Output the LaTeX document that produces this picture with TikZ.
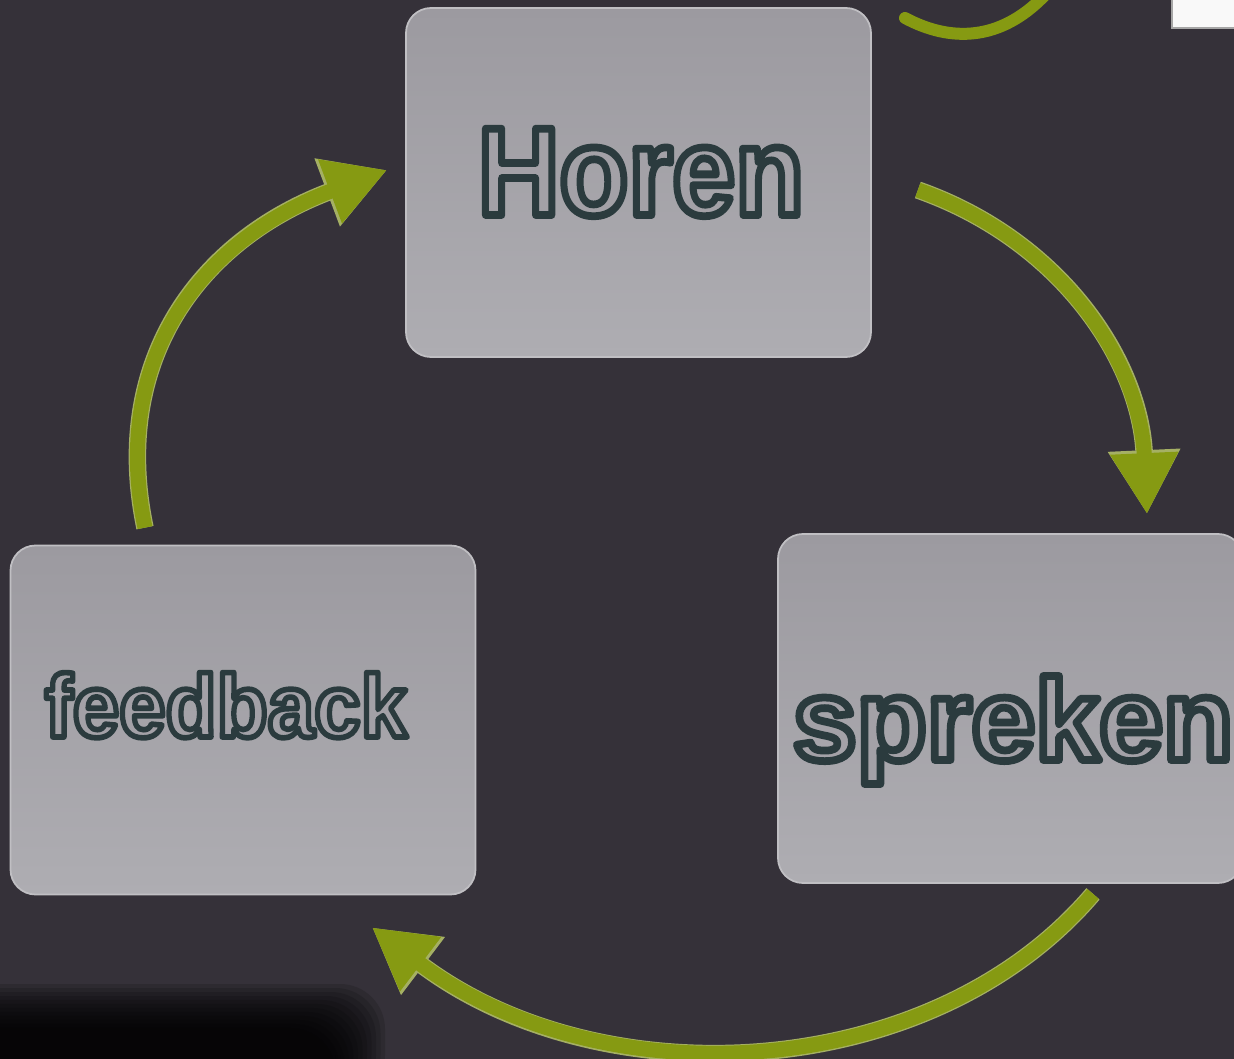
\documentclass[tikz,border=0pt]{standalone}
\usepackage{fontspec}
\setmainfont{Liberation Sans}
\usetikzlibrary{arrows.meta}

\definecolor{slate}{RGB}{53,49,57}
\definecolor{boxtop}{RGB}{156,154,160}
\definecolor{boxbottom}{RGB}{174,173,178}
\definecolor{boxrim}{RGB}{192,191,195}
\definecolor{olive}{RGB}{134,154,18}
\definecolor{oliverim}{RGB}{165,176,100}
\definecolor{ink}{RGB}{43,59,62}
\definecolor{labelfill}{RGB}{163,161,167}

\tikzset{
  stagebox/.style={draw=boxrim, line width=0.5pt, rounded corners=0.25cm,
    top color=boxtop, bottom color=boxbottom,
    minimum width=4.65cm, minimum height=3.49cm, inner sep=0pt},
  lettering/.style={anchor=base, inner sep=0pt, font=\bfseries, text=labelfill},
  cyclerim/.style={draw=oliverim, line width=0.175cm,
    -{Triangle[length=0.64cm,width=0.68cm]}},
  cyclearrow/.style={draw=olive, line width=0.15cm,
    -{Triangle[length=0.61cm,width=0.64cm]}}
}

% hollow cartoon letters: grey face with a dark stroked outline
\newcommand\hollow[2][2.2]{%
  \special{pdf:literal direct 2 Tr 1 j #1 w 0.169 0.231 0.243 RG}#2%
  \special{pdf:literal direct 0 Tr}}

\begin{document}
\begin{tikzpicture}
        % Draw dark background
        \useasboundingbox (0,0) rectangle (12.34,-10.59);
        \fill[slate] (0,0) rectangle (12.34,-10.59);
        % Draw smudge in lower left corner
        \foreach \k in {0,...,11}
            \fill[black, opacity=0.14, rounded corners=0.45cm]
                (-0.6,-11) rectangle (3.85-0.045*\k,-9.84-0.04*\k);
        % Draw green stroke and white box cut by the top edge
        \draw[olive, line width=0.12cm, line cap=round]
            (9.05,-0.18) .. controls (9.5,-0.42) and (10.0,-0.42) .. (10.45,0.05);
        \draw[draw=gray!70, fill=white!95!gray] (11.72,-0.28) rectangle (12.6,0.1);
        % Draw the three stages
        \node[stagebox] (horen) at (6.385,-1.825) {};
        \node[stagebox] (spreken) at (10.105,-7.085) {};
        \node[stagebox] (feedback) at (2.43,-7.20) {};
        % Draw stage labels
        \node[lettering] (horentext) at ([xshift=0.025cm,yshift=-0.325cm]horen.center)
            {\fontsize{35.7}{40}\selectfont\hollow{\scalebox{0.9}[1]{Horen}}};
        \node[lettering] (sprekentext) at ([xshift=0.025cm,yshift=-0.515cm]spreken.center)
            {\fontsize{33}{38}\selectfont\hollow{\scalebox{0.99}[1]{spreken}}};
        \node[lettering] (feedbacktext) at ([xshift=-0.17cm,yshift=-0.17cm]feedback.center)
            {\fontsize{25.3}{30}\selectfont\hollow[1.6]{\scalebox{0.94}[1]{feedback}}};
        % Draw arrow from Horen to spreken
        \draw[cyclerim] ([xshift=0.46cm,yshift=-0.075cm]horen.east)
            .. controls (10.6,-2.4) and (11.4,-3.6) .. ([xshift=1.365cm,yshift=0.19cm]spreken.north);
        \draw[cyclearrow] ([xshift=0.46cm,yshift=-0.075cm]horen.east)
            .. controls (10.6,-2.4) and (11.4,-3.6) .. ([xshift=1.365cm,yshift=0.19cm]spreken.north);
        % Draw arrow from spreken to feedback
        \draw[cyclerim] ([xshift=0.825cm,yshift=-0.10cm]spreken.south)
            .. controls (9.3,-10.85) and (6.0,-11.0) .. ([xshift=1.29cm,yshift=-0.32cm]feedback.south);
        \draw[cyclearrow] ([xshift=0.825cm,yshift=-0.10cm]spreken.south)
            .. controls (9.3,-10.85) and (6.0,-11.0) .. ([xshift=1.29cm,yshift=-0.32cm]feedback.south);
        % Draw arrow from feedback to Horen
        \draw[cyclerim] ([xshift=-0.98cm,yshift=0.17cm]feedback.north)
            .. controls (1.1,-3.6) and (2.0,-2.4) .. ([xshift=-0.18cm,yshift=0.125cm]horen.west);
        \draw[cyclearrow] ([xshift=-0.98cm,yshift=0.17cm]feedback.north)
            .. controls (1.1,-3.6) and (2.0,-2.4) .. ([xshift=-0.18cm,yshift=0.125cm]horen.west);
    \end{tikzpicture}
\end{document}
